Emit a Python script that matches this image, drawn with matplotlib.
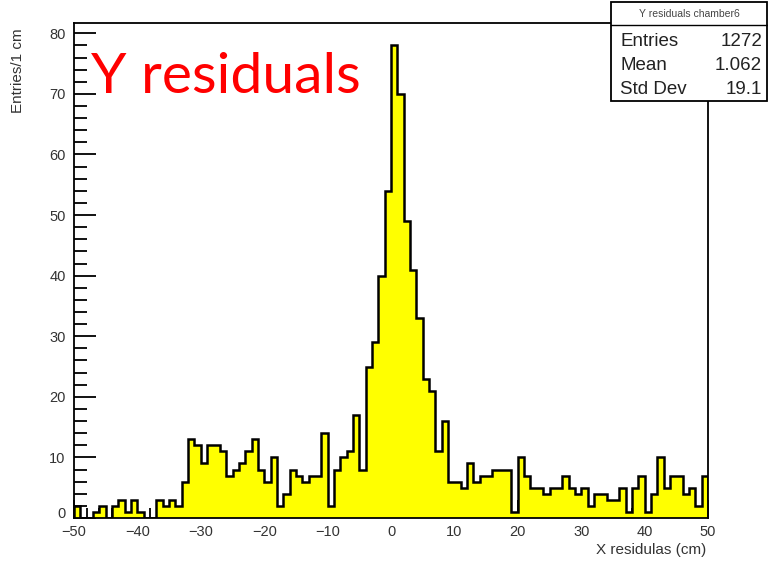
"""Y residuals histogram for chamber 6, styled like a ROOT canvas."""
import matplotlib
matplotlib.use("Agg")
import matplotlib.pyplot as plt
import matplotlib.transforms as mtransforms
from matplotlib.patches import Rectangle
from matplotlib.lines import Line2D
import numpy as np

# bin edges -50..50, 1 cm bins
BIN_EDGES = list(range(-50, 51))
COUNTS = [
    2, 0, 0, 1, 2, 0, 2, 3, 1, 3,         # -50 .. -41
    1, 0, 0, 3, 2, 3, 2, 6, 13, 12,       # -40 .. -31
    9, 12, 12, 11, 7, 8, 9, 11, 13, 8,    # -30 .. -21
    6, 10, 2, 4, 8, 7, 6, 7, 7, 14,       # -20 .. -11
    2, 8, 10, 11, 17, 8, 25, 29, 40, 54,  # -10 .. -1
    78, 70, 49, 41, 33, 23, 21, 11, 16, 6,  # 0 .. 9
    6, 5, 9, 6, 7, 7, 8, 8, 8, 1,         # 10 .. 19
    10, 7, 5, 5, 4, 5, 5, 7, 5, 4,        # 20 .. 29
    5, 2, 4, 4, 3, 3, 5, 1, 5, 7,         # 30 .. 39
    1, 4, 10, 5, 7, 7, 4, 5, 2, 7,        # 40 .. 49
]
STATS_TITLE = "Y residuals chamber6"
STATS = [("Entries", "1272"), ("Mean", "1.062"), ("Std Dev", "19.1")]

W, H = 768, 564
FONT = "Liberation Sans"


def px(x, y):
    """pixel coords (top-left origin) -> figure fraction"""
    return x / W, 1 - y / H


fig = plt.figure(figsize=(W / 100, H / 100), dpi=100)
ax = fig.add_axes([74 / W, 46 / H, (708 - 74) / W, (518 - 23) / H])

counts = np.array(COUNTS)
edges = np.array(BIN_EDGES)
ax.stairs(counts, edges, fill=True, color="#ffff00", zorder=2)
ax.stairs(counts, edges, color="black", lw=1.8, zorder=3)

ax.set_xlim(-50, 50)
ax.set_ylim(0, 81.7)
ax.set_xticks(range(-50, 51, 10))
ax.set_xticks(range(-50, 51, 2), minor=True)
ax.set_yticks(range(0, 81, 10))
ax.set_yticks(range(0, 81, 2), minor=True)
for s in ax.spines.values():
    s.set_linewidth(1.3)
ax.tick_params(axis="x", which="major", direction="in", length=13, width=1.3,
               pad=5, labelsize=10.5, labelcolor="#333333")
ax.tick_params(axis="x", which="minor", direction="in", length=7, width=1.3)
ax.tick_params(axis="y", which="major", direction="in", length=16, width=1.3,
               pad=6, labelsize=10.5, labelcolor="#333333")
ax.tick_params(axis="y", which="minor", direction="in", length=9, width=1.3)
for lab in ax.get_xticklabels() + ax.get_yticklabels():
    lab.set_family(FONT)

# ROOT lifts the "0" on the y axis a little so it clears the -50 label
fig.canvas.draw()
zero = ax.get_yticklabels()[0]
zero.set_transform(zero.get_transform()
                   + mtransforms.ScaledTranslation(0, 4 / 72, fig.dpi_scale_trans))

fig.text(*px(706, 550), "X residulas (cm)", ha="right", va="center",
         fontsize=11, color="#333333", family=FONT)
fig.text(*px(18, 28), "Entries/1 cm", ha="center", va="top", rotation=90,
         fontsize=11, color="#333333", family=FONT)

fig.text(*px(91, 93), "Y residuals", color="red", fontsize=41,
         family="Lato", va="baseline", ha="left")

# stats box
x0, y0 = px(611, 101)
box = Rectangle((x0, y0), 156 / W, 99 / H, transform=fig.transFigure,
                facecolor="white", edgecolor="black", lw=1.3, zorder=5)
fig.add_artist(box)
fig.add_artist(Line2D([611 / W, 767 / W], [1 - 25 / H, 1 - 25 / H],
                      transform=fig.transFigure, color="black", lw=1.0, zorder=6))
fig.text(*px(689, 14), STATS_TITLE, ha="center", va="center", fontsize=7.5,
         color="#444444", family=FONT, zorder=7)
for i, (name, val) in enumerate(STATS):
    yy = 41 + i * 24
    fig.text(*px(620, yy), name, ha="left", va="center", fontsize=13.5,
             color="#222222", family=FONT, zorder=7)
    fig.text(*px(762, yy), val, ha="right", va="center", fontsize=13.5,
             color="#222222", family=FONT, zorder=7)

fig.savefig("out.png", dpi=100)
